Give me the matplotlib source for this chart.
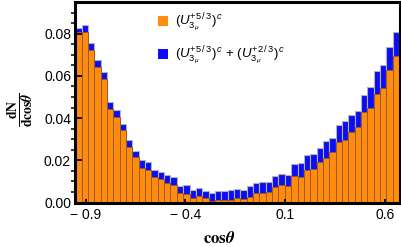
import matplotlib
matplotlib.use('Agg')
import matplotlib.pyplot as plt
import numpy as np

plt.rcParams['font.family'] = ['Liberation Sans', 'DejaVu Sans']
plt.rcParams['mathtext.fontset'] = 'custom'
plt.rcParams['mathtext.rm'] = 'Liberation Sans'
plt.rcParams['mathtext.it'] = 'Liberation Sans:italic'

# histogram of cos(theta): bin width and first edge
bin_left = -0.952
bin_width = 0.0318

# (U^{+5/3})^c only
orange_vals = [0.0807, 0.0808, 0.0724, 0.0642, 0.0587, 0.0442, 0.0405, 0.0342, 0.0265, 0.0214,
               0.0165, 0.0154, 0.0122, 0.0110, 0.0091, 0.0082, 0.0045, 0.0042, 0.0021, 0.0029,
               0.0020, 0.0007, 0.0010, 0.0013, 0.0013, 0.0021, 0.0018, 0.0026, 0.0044, 0.0044,
               0.0050, 0.0075, 0.0082, 0.0078, 0.0126, 0.0121, 0.0153, 0.0157, 0.0193, 0.0211,
               0.0238, 0.0285, 0.0296, 0.0334, 0.0356, 0.0429, 0.0449, 0.0516, 0.0544, 0.0628,
               0.0693, 0.0770]
# (U^{+5/3})^c + (U^{+2/3})^c
blue_vals = [0.0827, 0.0841, 0.0757, 0.0675, 0.0618, 0.0478, 0.0438, 0.0374, 0.0296, 0.0244,
             0.0200, 0.0192, 0.0154, 0.0145, 0.0130, 0.0121, 0.0078, 0.0081, 0.0058, 0.0070,
             0.0055, 0.0046, 0.0055, 0.0056, 0.0058, 0.0064, 0.0061, 0.0078, 0.0092, 0.0096,
             0.0099, 0.0125, 0.0135, 0.0130, 0.0182, 0.0187, 0.0224, 0.0230, 0.0258, 0.0290,
             0.0308, 0.0366, 0.0385, 0.0416, 0.0435, 0.0511, 0.0546, 0.0622, 0.0653, 0.0738,
             0.0808, 0.0904]

xticks = [-0.9, -0.4, 0.1, 0.6]
xticklabels = ['\u2212 0.9', '\u2212 0.4', '0.1', '0.6']
yticks = [0.00, 0.02, 0.04, 0.06, 0.08]

lbl_orange = r'$(U_{3_{\mu}}^{+5\,/\,3})^{\,c}$'
lbl_blue = r'$(U_{3_{\mu}}^{+5\,/\,3})^{\,c}$ + $(U_{3_{\mu}}^{+2\,/\,3})^{\,c}$'

edges = bin_left + bin_width * np.arange(len(orange_vals))

fig = plt.figure(figsize=(4.02, 2.47), dpi=100)
ax = fig.add_axes([0.187, 0.18, 0.808, 0.812])

b2 = ax.bar(edges, blue_vals, bin_width, align='edge', color='#0c0cf5',
            edgecolor='#b4b4b4', linewidth=0.8, label=lbl_blue)
b1 = ax.bar(edges, orange_vals, bin_width, align='edge', color='#ff8c0f',
            edgecolor='#9a5a20', linewidth=0.7, label=lbl_orange)

ax.set_xlim(bin_left, bin_left + bin_width * 51 + 0.004)
ax.set_ylim(0, 0.095)

ax.set_xticks(xticks)
ax.set_xticklabels(xticklabels)
ax.set_yticks(yticks)
ax.set_yticklabels(['%.2f' % v for v in yticks])
ax.set_yticks(np.arange(0, 0.095, 0.005), minor=True)
ax.tick_params(axis='both', direction='in', labelsize=10, width=1.3)
ax.tick_params(axis='y', which='major', length=5, pad=3)
ax.tick_params(axis='y', which='minor', length=3, width=1.1)
ax.tick_params(axis='x', which='major', length=3, pad=4)

for s in ax.spines.values():
    s.set_linewidth(2.2)
    s.set_zorder(5)

leg = ax.legend(handles=[b1, b2], loc='upper left', bbox_to_anchor=(0.24, 0.975),
                frameon=False, fontsize=9.5, handlelength=0.75, handleheight=0.75,
                handletextpad=0.5, labelspacing=0.8, borderaxespad=0)
for p in leg.get_patches():
    p.set_edgecolor('none')

fig.text(0.545, 0.035, r'$\mathbf{cos}\boldsymbol{\theta}$', fontsize=12,
         ha='center', va='center', math_fontfamily='stix')
fig.text(0.052, 0.555, r'$\frac{\mathbf{dN}}{\mathbf{dcos}\boldsymbol{\theta}}$', fontsize=14,
         ha='center', va='center', rotation=90, math_fontfamily='stix')

fig.savefig('out.png', dpi=100)
